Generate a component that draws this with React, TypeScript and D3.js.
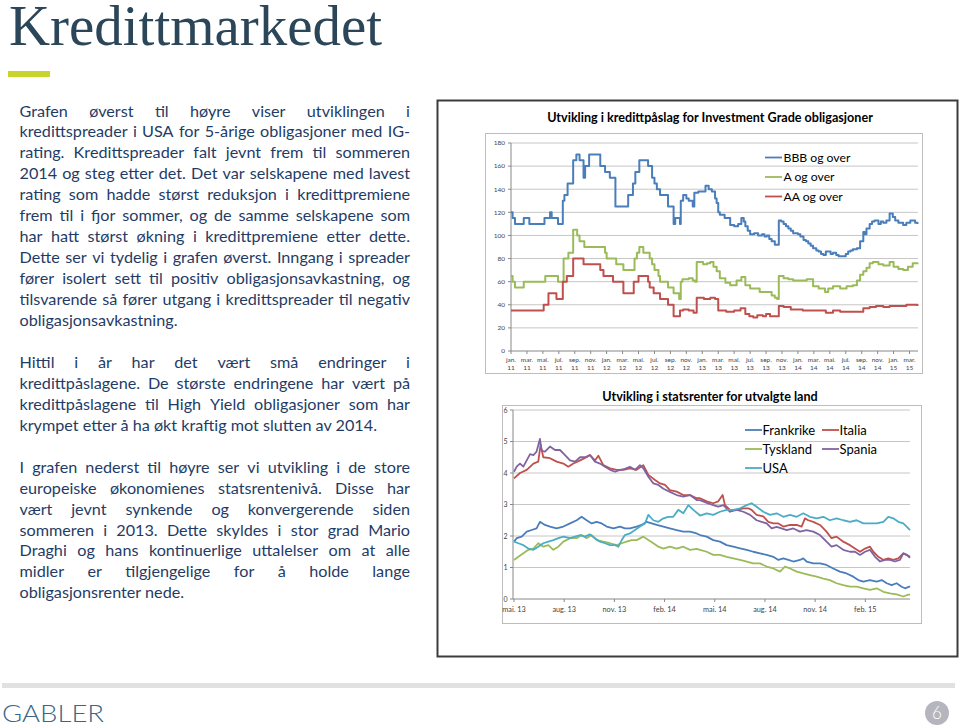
import React from 'react';
import * as d3 from 'd3';

// ---------- Top chart: credit spreads (months since Jan 2011) ----------
const bbbT = [0, 0.2, 0.5, 1.6, 2.3, 4.2, 4.9, 5.1, 5.9, 6.5, 6.7, 7.1, 7.8, 8.2, 8.6, 9.1, 9.3, 9.8, 11.2, 11.8, 12.4, 13.1, 14.7, 15.3, 15.6, 16.1, 17.2, 17.7, 18.0, 18.3, 18.7, 19.7, 20.4, 20.6, 21.2, 21.3, 21.6, 22.0, 22.3, 22.8, 23.0, 23.5, 24.4, 24.8, 25.2, 25.6, 25.8, 26.0, 26.2, 26.8, 27.5, 28.0, 28.5, 28.9, 29.2, 29.4, 29.7, 30.0, 30.5, 31.0, 31.5, 31.8, 32.1, 32.4, 32.7, 33.1, 33.6, 33.9, 34.2, 34.5, 34.8, 35.1, 35.4, 36.0, 36.3, 36.7, 37.0, 37.3, 37.6, 37.9, 38.3, 38.6, 38.9, 39.2, 39.5, 39.8, 40.1, 40.4, 40.8, 41.1, 41.7, 42.0, 42.3, 42.6, 42.9, 43.4, 43.8, 44.2, 44.4, 44.6, 45.0, 45.3, 45.6, 46.1, 46.4, 46.7, 47.1, 47.5, 47.9, 48.2, 48.6, 49.2, 49.6, 50.1, 50.7, 51.0];
const bbbV = [120, 115, 110, 115, 110, 115, 120, 115, 110, 130, 135, 145, 165, 170, 165, 150, 160, 170, 160, 155, 150, 125, 135, 145, 155, 165, 160, 150, 145, 140, 135, 125, 110, 115, 110, 130, 135, 132, 130, 125, 137, 138, 143, 140, 138, 132, 128, 120, 118, 115, 109, 108, 110, 115, 112, 108, 104, 101, 102, 100, 101, 99, 100, 97, 95, 92, 113, 112, 110, 108, 106, 104, 102, 101, 99, 96, 95, 93, 91, 89, 87, 86, 84, 83, 86, 86, 84, 85, 83, 82, 82, 84, 86, 87, 88, 89, 95, 103, 101, 106, 110, 112, 113, 110, 112, 111, 113, 119, 116, 113, 111, 109, 111, 113, 111, 110];

const aT = [0, 0.2, 0.5, 1.6, 4.3, 5.9, 6.6, 7.2, 7.8, 8.3, 8.6, 9.2, 11.8, 12.0, 13.2, 14.1, 15.5, 15.8, 16.1, 16.6, 17.4, 17.7, 18.0, 18.5, 18.7, 19.7, 20.4, 21.1, 21.3, 21.5, 22.3, 22.8, 23.1, 23.3, 24.1, 24.6, 25.0, 25.4, 25.8, 26.2, 26.9, 27.5, 28.3, 28.9, 29.4, 30.0, 30.8, 31.2, 32.1, 32.7, 33.1, 33.4, 33.6, 34.2, 34.8, 35.4, 36.2, 37.1, 37.9, 38.6, 39.4, 39.8, 40.4, 41.3, 42.1, 42.9, 43.4, 43.8, 44.2, 44.6, 45.0, 45.4, 46.1, 46.7, 47.5, 48.0, 48.6, 49.2, 49.8, 50.4, 51.0];
const aV = [65, 60, 55, 60, 65, 60, 80, 85, 105, 100, 95, 90, 85, 80, 75, 70, 80, 85, 90, 85, 80, 75, 70, 65, 60, 55, 50, 45, 60, 62, 63, 61, 60, 77, 75, 76, 77, 73, 69, 63, 59, 57, 61, 64, 57, 54, 54, 51, 51, 48, 46, 45, 65, 63, 62, 61, 61, 62, 56, 54, 51, 54, 56, 54, 56, 57, 61, 66, 69, 72, 76, 77, 75, 74, 77, 73, 71, 70, 73, 76, 75];

const aaT = [0, 4.1, 4.7, 5.7, 6.5, 7.0, 7.8, 9.1, 11.2, 11.6, 12.8, 14.1, 15.4, 16.0, 17.2, 17.4, 17.9, 18.7, 19.7, 20.4, 21.2, 21.6, 22.3, 22.9, 23.3, 24.2, 25.0, 25.6, 26.0, 27.0, 28.0, 28.8, 29.4, 29.9, 30.4, 30.9, 31.6, 32.0, 32.5, 33.6, 34.2, 35.1, 36.6, 38.3, 39.5, 40.4, 41.3, 43.8, 44.2, 45.0, 45.8, 46.7, 47.5, 49.6, 50.5, 51.0];
const aaV = [35, 40, 50, 45, 60, 65, 80, 75, 70, 65, 60, 50, 60, 65, 60, 55, 50, 45, 40, 30, 35, 36, 35, 33, 46, 45, 46, 45, 35, 34, 35, 37, 32, 30, 29, 31, 30, 32, 30, 39, 38, 36, 35, 35, 33, 35, 34, 34, 37, 38, 39, 38, 39, 40, 40, 39];

const topTickMonths = [0, 2, 4, 6, 8, 10, 12, 14, 16, 18, 20, 22, 24, 26, 28, 30, 32, 34, 36, 38, 40, 42, 44, 46, 48, 50];
const topTickNames = ['jan.', 'mar.', 'mai.', 'jul.', 'sep.', 'nov.', 'jan.', 'mar.', 'mai.', 'jul.', 'sep.', 'nov.', 'jan.', 'mar.', 'mai.', 'jul.', 'sep.', 'nov.', 'jan.', 'mar.', 'mai.', 'jul.', 'sep.', 'nov.', 'jan.', 'mar.'];
const topTickYears = ['11', '11', '11', '11', '11', '11', '12', '12', '12', '12', '12', '12', '13', '13', '13', '13', '13', '13', '14', '14', '14', '14', '14', '14', '15', '15'];
const topYTicks = [0, 20, 40, 60, 80, 100, 120, 140, 160, 180];

// ---------- Bottom chart: government yields (months since May 2013) ----------
const frT = [0, 0.16, 0.46, 0.76, 1.06, 1.35, 1.55, 1.85, 2.15, 2.55, 2.95, 3.35, 3.75, 4.04, 4.34, 4.64, 4.94, 5.24, 5.54, 5.94, 6.34, 6.63, 6.93, 7.33, 7.63, 7.93, 8.23, 8.53, 8.93, 9.32, 9.72, 10.12, 10.52, 10.92, 11.12, 11.52, 11.91, 12.31, 12.71, 13.11, 13.51, 13.91, 14.3, 14.7, 15.1, 15.5, 15.8, 16.1, 16.4, 16.7, 17.09, 17.29, 17.49, 17.89, 18.29, 18.68, 19.08, 19.48, 19.88, 20.28, 20.58, 20.88, 21.28, 21.68, 21.98, 22.28, 22.57, 22.87, 23.17, 23.37, 23.67];
const frV = [1.82, 1.93, 1.98, 2.14, 2.19, 2.24, 2.45, 2.35, 2.3, 2.24, 2.3, 2.4, 2.5, 2.61, 2.5, 2.4, 2.45, 2.4, 2.3, 2.24, 2.3, 2.24, 2.24, 2.3, 2.35, 2.45, 2.4, 2.35, 2.3, 2.24, 2.19, 2.14, 2.14, 2.08, 2.03, 1.98, 1.87, 1.82, 1.71, 1.66, 1.61, 1.56, 1.5, 1.45, 1.4, 1.34, 1.24, 1.29, 1.24, 1.19, 1.24, 1.29, 1.19, 1.13, 1.13, 1.08, 0.97, 0.87, 0.81, 0.71, 0.6, 0.55, 0.6, 0.55, 0.6, 0.5, 0.44, 0.5, 0.39, 0.34, 0.4];

const itT = [0, 0.36, 0.76, 1.16, 1.45, 1.59, 1.75, 2.15, 2.55, 2.95, 3.25, 3.55, 3.95, 4.34, 4.54, 4.84, 5.04, 5.34, 5.74, 6.14, 6.54, 6.93, 7.33, 7.73, 8.03, 8.43, 8.73, 9.03, 9.32, 9.72, 10.12, 10.52, 10.92, 11.12, 11.52, 11.91, 12.21, 12.47, 12.61, 12.91, 13.31, 13.71, 14.01, 14.2, 14.5, 14.9, 15.2, 15.5, 15.8, 16.1, 16.5, 16.9, 17.19, 17.39, 17.59, 17.89, 18.29, 18.68, 18.98, 19.28, 19.68, 20.08, 20.38, 20.68, 20.98, 21.28, 21.48, 21.78, 22.08, 22.37, 22.67, 22.97, 23.27, 23.47, 23.67];
const itV = [3.83, 4.0, 4.1, 4.3, 4.36, 4.9, 4.5, 4.47, 4.36, 4.3, 4.2, 4.3, 4.4, 4.5, 4.57, 4.4, 4.55, 4.25, 4.15, 4.1, 4.1, 4.15, 4.1, 4.25, 3.94, 3.78, 3.67, 3.62, 3.46, 3.41, 3.3, 3.3, 3.2, 3.2, 3.1, 3.04, 3.1, 3.3, 2.98, 2.83, 2.83, 2.88, 2.88, 2.83, 2.67, 2.62, 2.45, 2.4, 2.4, 2.3, 2.35, 2.35, 2.3, 2.56, 2.5, 2.45, 2.35, 2.14, 1.93, 1.98, 1.82, 1.71, 1.6, 1.5, 1.6, 1.66, 1.5, 1.34, 1.24, 1.29, 1.24, 1.29, 1.45, 1.4, 1.31];

const deT = [0, 0.26, 0.56, 0.86, 1.16, 1.45, 1.75, 2.05, 2.35, 2.65, 2.95, 3.35, 3.75, 4.04, 4.34, 4.64, 4.94, 5.34, 5.74, 6.14, 6.44, 6.73, 7.03, 7.33, 7.73, 8.03, 8.33, 8.63, 8.93, 9.32, 9.72, 10.12, 10.52, 10.92, 11.12, 11.52, 11.91, 12.31, 12.71, 13.11, 13.51, 13.91, 14.3, 14.7, 15.1, 15.5, 15.9, 16.2, 16.5, 16.9, 17.29, 17.69, 18.09, 18.49, 18.88, 19.28, 19.68, 20.08, 20.48, 20.88, 21.28, 21.68, 22.08, 22.47, 22.87, 23.27, 23.47, 23.67];
const deV = [1.24, 1.34, 1.45, 1.56, 1.6, 1.77, 1.66, 1.71, 1.56, 1.66, 1.82, 1.93, 1.93, 2.03, 1.93, 2.03, 1.87, 1.82, 1.77, 1.71, 1.77, 1.82, 1.87, 1.87, 1.98, 1.87, 1.77, 1.66, 1.6, 1.66, 1.6, 1.66, 1.56, 1.59, 1.56, 1.5, 1.4, 1.4, 1.34, 1.29, 1.24, 1.19, 1.13, 1.13, 1.03, 0.97, 0.87, 1.03, 0.97, 0.87, 0.81, 0.76, 0.71, 0.65, 0.6, 0.5, 0.44, 0.39, 0.39, 0.34, 0.29, 0.34, 0.23, 0.18, 0.15, 0.08, 0.12, 0.15];

const esT = [0, 0.16, 0.36, 0.56, 0.76, 0.96, 1.16, 1.35, 1.55, 1.65, 1.85, 2.15, 2.45, 2.75, 3.05, 3.35, 3.65, 3.95, 4.24, 4.54, 4.84, 5.14, 5.44, 5.74, 6.04, 6.34, 6.63, 6.93, 7.23, 7.53, 7.73, 8.03, 8.33, 8.63, 8.93, 9.32, 9.72, 10.12, 10.52, 10.92, 11.12, 11.52, 11.91, 12.21, 12.51, 12.91, 13.31, 13.71, 14.11, 14.5, 14.8, 15.1, 15.4, 15.7, 15.99, 16.3, 16.7, 17.09, 17.49, 17.89, 18.29, 18.68, 18.98, 19.28, 19.68, 20.08, 20.38, 20.68, 20.98, 21.28, 21.58, 21.88, 22.18, 22.47, 22.77, 23.07, 23.27, 23.47, 23.67];
const esV = [4.04, 4.2, 4.3, 4.2, 4.4, 4.6, 4.57, 4.68, 5.08, 4.7, 4.68, 4.84, 4.73, 4.73, 4.57, 4.4, 4.36, 4.5, 4.5, 4.57, 4.36, 4.3, 4.2, 4.1, 4.04, 4.1, 4.13, 4.2, 4.1, 4.25, 4.15, 3.88, 3.67, 3.62, 3.5, 3.4, 3.3, 3.25, 3.3, 3.14, 3.14, 3.05, 2.98, 2.93, 2.98, 2.77, 2.83, 2.77, 2.67, 2.5, 2.45, 2.4, 2.24, 2.29, 2.24, 2.19, 2.24, 2.14, 2.19, 2.14, 2.03, 1.82, 1.66, 1.71, 1.56, 1.5, 1.5, 1.4, 1.5, 1.56, 1.34, 1.19, 1.24, 1.24, 1.19, 1.24, 1.45, 1.4, 1.34];

const usT = [0, 0.26, 0.56, 0.86, 1.16, 1.45, 1.75, 2.05, 2.35, 2.65, 2.95, 3.35, 3.65, 3.95, 4.24, 4.54, 4.84, 5.14, 5.44, 5.74, 6.04, 6.24, 6.44, 6.63, 6.93, 7.23, 7.53, 7.83, 8.03, 8.33, 8.63, 8.93, 9.22, 9.52, 9.82, 10.12, 10.42, 10.72, 11.12, 11.52, 11.91, 12.31, 12.71, 13.11, 13.51, 13.91, 14.2, 14.5, 14.9, 15.3, 15.7, 16.1, 16.5, 16.9, 17.29, 17.69, 18.09, 18.49, 18.88, 19.28, 19.68, 20.08, 20.48, 20.88, 21.28, 21.68, 22.08, 22.37, 22.67, 22.97, 23.27, 23.47, 23.67];
const usV = [1.82, 1.77, 1.71, 1.6, 1.56, 1.66, 1.77, 1.82, 1.87, 1.93, 1.98, 1.93, 1.98, 2.03, 1.98, 2.05, 1.93, 1.82, 1.77, 1.71, 1.71, 1.66, 1.87, 2.03, 2.08, 2.19, 2.3, 2.4, 2.67, 2.5, 2.45, 2.56, 2.61, 2.61, 2.83, 2.72, 2.98, 2.83, 2.65, 2.72, 2.67, 2.77, 2.83, 2.83, 2.88, 2.98, 3.04, 2.93, 2.77, 2.67, 2.72, 2.61, 2.67, 2.61, 2.72, 2.61, 2.56, 2.61, 2.5, 2.56, 2.5, 2.45, 2.5, 2.4, 2.4, 2.4, 2.45, 2.61, 2.56, 2.45, 2.4, 2.3, 2.19];

const botTickMonths = [0, 3, 6, 9, 12, 15, 18, 21];
const botTickLabels = ['mai. 13', 'aug. 13', 'nov. 13', 'feb. 14', 'mai. 14', 'aug. 14', 'nov. 14', 'feb. 15'];
const botYTicks = [0, 1, 2, 3, 4, 5, 6];

// ---------- Text ----------
const para1 = [
  'Grafen øverst til høyre viser utviklingen i',
  'kredittspreader i USA for 5-årige obligasjoner med IG-',
  'rating. Kredittspreader falt jevnt frem til sommeren',
  '2014 og steg etter det. Det var selskapene med lavest',
  'rating som hadde størst reduksjon i kredittpremiene',
  'frem til i fjor sommer, og de samme selskapene som',
  'har hatt størst økning i kredittpremiene etter dette.',
  'Dette ser vi tydelig i grafen øverst. Inngang i spreader',
  'fører isolert sett til positiv obligasjonsavkastning, og',
  'tilsvarende så fører utgang i kredittspreader til negativ',
  'obligasjonsavkastning.',
];
const para2 = [
  'Hittil i år har det vært små endringer i',
  'kredittpåslagene. De største endringene har vært på',
  'kredittpåslagene til High Yield obligasjoner som har',
  'krympet etter å ha økt kraftig mot slutten av 2014.',
];
const para3 = [
  'I grafen nederst til høyre ser vi utvikling i de store',
  'europeiske økonomienes statsrentenivå. Disse har',
  'vært jevnt synkende og konvergerende siden',
  'sommeren i 2013. Dette skyldes i stor grad Mario',
  'Draghi og hans kontinuerlige uttalelser om at alle',
  'midler er tilgjengelige for å holde lange',
  'obligasjonsrenter nede.',
];

const BODY_FONT = 'Lato, "Open Sans", sans-serif';
const BODY_SIZE = 16.2;
const TEXT_COLOR = '#1f3c66';

let _ctx: CanvasRenderingContext2D | null = null;
function measure(s: string, font: string) {
  if (!_ctx) _ctx = document.createElement('canvas').getContext('2d');
  if (!_ctx) return s.length * 7;
  _ctx.font = font;
  return _ctx.measureText(s).width;
}

function Para({ lines, startY, lineH }: { lines: string[]; startY: number; lineH: number }) {
  const x0 = 19.5;
  const W = 390.5;
  const font = `${BODY_SIZE}px Lato`;
  return (
    <g fill={TEXT_COLOR} fontFamily={BODY_FONT} fontSize={BODY_SIZE}>
      {lines.map((line, i) => {
        const y = startY + i * lineH;
        const last = i === lines.length - 1;
        if (last) {
          return (
            <text key={i} x={x0} y={y}>
              {line}
            </text>
          );
        }
        const words = line.split(' ');
        const ws = words.map((w) => measure(w, font));
        const sum = d3.sum(ws);
        const gap = Math.max(2.5, (W - sum) / (words.length - 1));
        let cx = x0;
        const xs = ws.map((w) => {
          const p = cx;
          cx += w + gap;
          return p;
        });
        return (
          <text key={i} y={y}>
            {words.map((w, j) => (
              <tspan key={j} x={xs[j]}>
                {w}
              </tspan>
            ))}
          </text>
        );
      })}
    </g>
  );
}

const FONT = 'Lato, "Open Sans", sans-serif';

function TopChart() {
  const x = d3.scaleLinear().domain([0, 51]).range([511, 917.5]);
  const y = d3.scaleLinear().domain([0, 180]).range([351, 143]);
  const mk = (t: number[], v: number[]) =>
    d3
      .line<number>()
      .x((_, i) => x(t[i]))
      .y((d) => y(d))
      .curve(d3.curveStepAfter)(v) || '';
  const series = [
    { name: 'BBB og over', t: bbbT, v: bbbV, color: '#4a7ebb' },
    { name: 'A og over', t: aT, v: aV, color: '#9bbb59' },
    { name: 'AA og over', t: aaT, v: aaV, color: '#c0504d' },
  ];
  const [x0] = x.range();
  return (
    <g>
      <text x={710} y={122} textAnchor="middle" fontFamily={FONT} fontWeight="bold" fontSize={12.6} fill="#000">
        Utvikling i kredittpåslag for Investment Grade obligasjoner
      </text>
      <rect x={485.5} y={133.5} width={437} height={240} fill="none" stroke="#bdbdbd" strokeWidth={1} />
      {topYTicks.map((t) => (
        <g key={t}>
          {t > 0 && <line x1={x0} x2={918} y1={y(t)} y2={y(t)} stroke="#c6c6c6" strokeWidth={1} />}
          <line x1={x0 - 3} x2={x0} y1={y(t)} y2={y(t)} stroke="#888" />
          <text x={505} y={y(t) + 2.3} textAnchor="end" fontFamily={FONT} fontSize={6.5} fill="#444">
            {t}
          </text>
        </g>
      ))}
      <line x1={x0} x2={x0} y1={y(180)} y2={y(0)} stroke="#888" />
      <line x1={x0} x2={918} y1={y(0)} y2={y(0)} stroke="#888" />
      {topTickMonths.map((m, i) => (
        <g key={m}>
          <line x1={x(m)} x2={x(m)} y1={y(0)} y2={y(0) + 3} stroke="#888" />
          <text x={x(m)} y={361.5} textAnchor="middle" fontFamily={FONT} fontSize={6.5} fill="#444">
            {topTickNames[i]}
          </text>
          <text x={x(m)} y={369.5} textAnchor="middle" fontFamily={FONT} fontSize={6.5} fill="#444">
            {topTickYears[i]}
          </text>
        </g>
      ))}
      {series.map((s) => (
        <path key={s.name} d={mk(s.t, s.v)} fill="none" stroke={s.color} strokeWidth={2} strokeLinejoin="round" />
      ))}
      {series.map((s, i) => (
        <g key={s.name}>
          <line x1={765} x2={782} y1={157.5 + i * 19.5} y2={157.5 + i * 19.5} stroke={s.color} strokeWidth={1.8} />
          <text x={783.5} y={157.5 + i * 19.5 + 4.3} fontFamily={FONT} fontSize={12.2} fill="#000">
            {s.name}
          </text>
        </g>
      ))}
    </g>
  );
}

function BottomChart() {
  const x = d3.scaleLinear().domain([0, 23.67]).range([514, 910]);
  const y = d3.scaleLinear().domain([0, 6]).range([599, 410]);
  const mk = (t: number[], v: number[]) =>
    d3
      .line<number>()
      .x((_, i) => x(t[i]))
      .y((d) => y(d))(v) || '';
  const series = [
    { name: 'Frankrike', t: frT, v: frV, color: '#4a7ebb' },
    { name: 'Italia', t: itT, v: itV, color: '#c0504d' },
    { name: 'Tyskland', t: deT, v: deV, color: '#9bbb59' },
    { name: 'Spania', t: esT, v: esV, color: '#8064a2' },
    { name: 'USA', t: usT, v: usV, color: '#4bacc6' },
  ];
  const legendPos = [
    [745, 430],
    [822, 430],
    [745, 449],
    [822, 449],
    [745, 468],
  ];
  const ax = 513;
  return (
    <g>
      <text x={710} y={401} textAnchor="middle" fontFamily={FONT} fontWeight="bold" fontSize={12.6} fill="#000">
        Utvikling i statsrenter for utvalgte land
      </text>
      <rect x={502.5} y={405.5} width={419} height={218} fill="none" stroke="#bdbdbd" strokeWidth={1} />
      {botYTicks.map((t) => (
        <g key={t}>
          {t > 0 && <line x1={ax} x2={910} y1={y(t)} y2={y(t)} stroke="#c6c6c6" strokeWidth={1} />}
          <line x1={ax - 3} x2={ax} y1={y(t)} y2={y(t)} stroke="#888" />
          <text x={503.5} y={y(t) + 2.5} fontFamily={FONT} fontSize={7} fill="#444">
            {t}
          </text>
        </g>
      ))}
      <line x1={ax} x2={ax} y1={y(6)} y2={y(0)} stroke="#888" />
      <line x1={ax} x2={910} y1={y(0)} y2={y(0)} stroke="#888" />
      {botTickMonths.map((m, i) => (
        <g key={m}>
          <line x1={x(m)} x2={x(m)} y1={y(0)} y2={y(0) + 3} stroke="#888" />
          <text x={x(m)} y={611.5} textAnchor="middle" fontFamily={FONT} fontSize={7.3} fill="#444">
            {botTickLabels[i]}
          </text>
        </g>
      ))}
      {series.map((s) => (
        <path key={s.name} d={mk(s.t, s.v)} fill="none" stroke={s.color} strokeWidth={1.8} strokeLinejoin="round" />
      ))}
      {series.map((s, i) => (
        <g key={s.name}>
          <line x1={legendPos[i][0]} x2={legendPos[i][0] + 17} y1={legendPos[i][1]} y2={legendPos[i][1]} stroke={s.color} strokeWidth={1.8} />
          <text x={legendPos[i][0] + 17.5} y={legendPos[i][1] + 4.6} fontFamily={FONT} fontSize={13} fill="#000">
            {s.name}
          </text>
        </g>
      ))}
    </g>
  );
}

export default function App() {
  const lh = 20.95;
  return (
    <svg width={960} height={728} style={{ position: 'absolute', left: 0, top: 0, background: '#fff' }}>
      <rect x={0} y={0} width={960} height={728} fill="#fff" />
      <text x={9} y={44.5} fontFamily='"Liberation Serif", serif' fontSize={56} fill="#2b4658" textLength={373} lengthAdjust="spacingAndGlyphs">
        Kredittmarkedet
      </text>
      <rect x={8} y={71} width={42} height={6} fill="#c8d32c" />
      <Para lines={para1} startY={116.5} lineH={lh} />
      <Para lines={para2} startY={116.5 + 12 * lh} lineH={lh} />
      <Para lines={para3} startY={116.5 + 17 * lh} lineH={lh} />
      <rect x={437.5} y={100.5} width={520} height={556} fill="none" stroke="#3c3c3c" strokeWidth={2} />
      <TopChart />
      <BottomChart />
      <rect x={2} y={683} width={953} height={5} fill="#e1e1e1" />
      <text x={2} y={722} fontFamily="Lato, sans-serif" fontWeight={300} fontSize={23} fill="#3b6686" textLength={102} lengthAdjust="spacingAndGlyphs">
        GABLER
      </text>
      <circle cx={937} cy={713} r={12} fill="#b5b5bd" />
      <text x={937} y={719} textAnchor="middle" fontFamily="Lato, sans-serif" fontWeight={300} fontSize={17} fill="#fff">
        6
      </text>
    </svg>
  );
}
